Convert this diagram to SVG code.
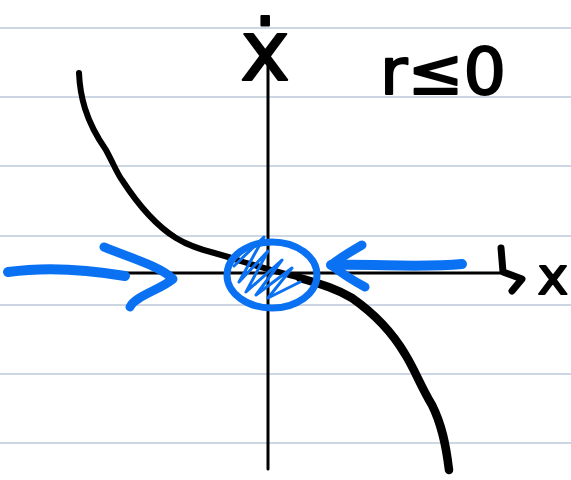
<svg xmlns="http://www.w3.org/2000/svg" width="571" height="480" viewBox="0 0 571 480">
<style>
.rule{stroke:#bccadb;stroke-width:1.5}
.axis{stroke:#000;stroke-width:3;fill:none;stroke-linecap:round}
.ink{stroke:#000;fill:none;stroke-linecap:round;stroke-linejoin:round}
.blue{stroke:#0a72f2;fill:none;stroke-linecap:round;stroke-linejoin:round}
.hand{font-family:"DejaVu Sans",sans-serif;fill:#000;stroke:#000;stroke-width:2;stroke-linejoin:round}
</style>
<rect width="571" height="480" fill="#fff"/>
<g id="paper-lines">
<line class="rule" x1="0" y1="28" x2="571" y2="28"/>
<line class="rule" x1="0" y1="97" x2="571" y2="97"/>
<line class="rule" x1="0" y1="166" x2="571" y2="166"/>
<line class="rule" x1="0" y1="236" x2="571" y2="236"/>
<line class="rule" x1="0" y1="305" x2="571" y2="305"/>
<line class="rule" x1="0" y1="374" x2="571" y2="374"/>
<line class="rule" x1="0" y1="443" x2="571" y2="443"/>
</g>
<g id="axes">
<line class="axis" x1="268" y1="66" x2="268" y2="469"/>
<line class="axis" x1="108" y1="273" x2="506" y2="273"/>
<path class="ink" stroke-width="7" d="M501 248 L503 272 L522 279 L512 291"/>
</g>
<g id="labels">
<text class="hand" x="265" y="80" font-size="84" text-anchor="middle">ẋ</text>
<text class="hand" x="380" y="94" font-size="64" textLength="126" lengthAdjust="spacingAndGlyphs">r≤0</text>
<text class="hand" x="553" y="294" font-size="52" text-anchor="middle">x</text>
</g>
<g id="curve">
<path class="ink" stroke-width="6" d="M79 73 C80 95 85 120 106 150 C114 165 118 175 122 180 C135 200 155 225 176 238 C195 250 215 252 234 259 C255 266 280 272 300 278"/>
<path class="ink" stroke-width="8.5" d="M300 278 C320 284 335 288 352 298 C372 312 392 332 405 354 C415 370 420 385 432 405 C442 425 446 445 449 470"/>
</g>
<g id="fixed-point">
<ellipse class="blue" stroke-width="7" cx="272" cy="275" rx="45" ry="33"/>
<path class="blue" stroke-width="3" d="M234 266 L264 237 L239 282 L268 251 L246 292 L282 260 L256 295 L292 268 L268 298 L300 282"/>
</g>
<g id="connectors">
<path class="blue" stroke-width="10" d="M8 272 C50 266 90 270 125 276"/>
<path class="blue" stroke-width="9" d="M104 247 C130 258 160 266 173 279 C160 290 135 296 130 307"/>
<path class="blue" stroke-width="10" d="M462 264 C420 268 380 264 331 265"/>
<path class="blue" stroke-width="9" d="M362 245 C350 252 340 258 331 265 C340 272 352 280 365 287"/>
</g>
</svg>
